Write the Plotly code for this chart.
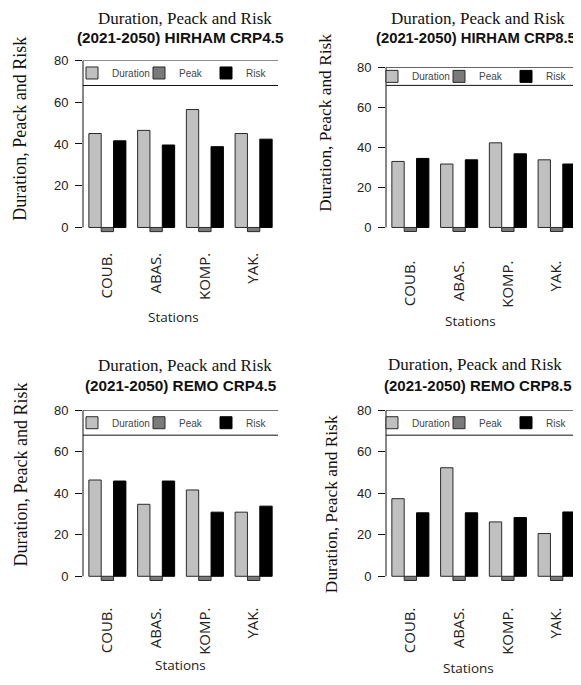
import plotly.graph_objects as go

# ---------------- data ----------------
stations = ["COUB.", "ABAS.", "KOMP.", "YAK."]
series_names = ["Duration", "Peak", "Risk"]

titles = ["(2021-2050) HIRHAM CRP4.5", "(2021-2050) HIRHAM CRP8.5",
          "(2021-2050) REMO CRP4.5", "(2021-2050) REMO CRP8.5"]

duration_hirham45 = [45.0, 46.5, 56.5, 45.0]
peak_hirham45 = [-2, -2, -2, -2]
risk_hirham45 = [41.5, 39.5, 38.7, 42.3]

duration_hirham85 = [33.0, 31.7, 42.3, 33.8]
peak_hirham85 = [-2, -2, -2, -2]
risk_hirham85 = [34.5, 33.8, 36.8, 31.7]

duration_remo45 = [46.4, 34.7, 41.6, 30.9]
peak_remo45 = [-2, -2, -2, -2]
risk_remo45 = [45.9, 45.9, 30.9, 33.8]

duration_remo85 = [37.4, 52.3, 26.2, 20.6]
peak_remo85 = [-2, -2, -2, -2]
risk_remo85 = [30.6, 30.6, 28.3, 31.0]

y_ticks = [0, 20, 40, 60, 80]

panel_data = [
    (duration_hirham45, peak_hirham45, risk_hirham45),
    (duration_hirham85, peak_hirham85, risk_hirham85),
    (duration_remo45, peak_remo45, risk_remo45),
    (duration_remo85, peak_remo85, risk_remo85),
]

# ---------------- layout geometry (window pixels) ----------------
W, H = 581, 685
OFF = 8                      # default page body margin
FW, FH = W - OFF, H - OFF    # figure size


def px(x):
    return (x - OFF) / FW


def py(y):
    return 1 - (y - OFF) / FH


YMIN, YMAX = -3, 80
# (axis x, right x, pixel of y=80, pixel of y=0, legend box bottom value, legend x shift)
geom = [
    (83, 278, 54, 223, 68, -11),
    (386, 581, 61, 223, 71, -14),
    (83, 278, 408, 576, 68, -11),
    (386, 581, 408, 576, 68, -14),
]
# (title x, title y, subtitle x, subtitle y, subtitle size, ytitle x, ytitle y,
#  ytitle size, stations x, stations y, label standoff)
text_pos = [
    (185, 12, 180, 31, 15.3, 20, 123, 18, 173, 314, 15),
    (478, 12, 476, 31, 14.8, 325, 117, 17.4, 471, 318, 23),
    (185, 363, 181, 383, 15.3, 21, 473, 18, 180, 666, 21),
    (475, 362, 478, 383, 15.0, 331, 503, 17.4, 468, 669, 21),
]

fill_colors = ["#c0c0c0", "#7a7a7a", "#000000"]
line_colors = ["#2a2a2a", "#2a2a2a", "#000000"]

fig = go.Figure()
layout = dict(
    width=FW, height=FH, margin=dict(l=0, r=0, t=0, b=0),
    paper_bgcolor="white", plot_bgcolor="white",
    barmode="group", bargap=0.24, bargroupgap=0,
    shapes=[], annotations=[],
)

for i, (vals, g, tp) in enumerate(zip(panel_data, geom, text_pos)):
    ax_x, ax_r, p80, p0, leg_bot, leg_dx = g
    scale = (p0 - p80) / (YMAX - 0)
    pbottom = p0 + (0 - YMIN) * scale
    sfx = "" if i == 0 else str(i + 1)
    xa, ya = "x" + sfx, "y" + sfx
    leg = "legend" + sfx
    for k, name in enumerate(series_names):
        fig.add_trace(go.Bar(
            x=stations, y=vals[k], name=name, xaxis=xa, yaxis=ya,
            marker=dict(color=fill_colors[k], line=dict(color=line_colors[k], width=1)),
            legend=leg, showlegend=True, hoverinfo="x+y+name",
        ))
    layout["xaxis" + sfx] = dict(
        domain=[px(ax_x), min(px(ax_r), 1.0)], anchor=ya,
        range=[-0.5, 3.5], type="category", showgrid=False, zeroline=False,
        showline=False, ticks="", tickangle=-90,
        tickfont=dict(family="Open Sans", size=15, color="#222"),
        ticklabelstandoff=tp[10],
    )
    layout["yaxis" + sfx] = dict(
        domain=[py(pbottom), py(p80)], anchor=xa,
        range=[YMIN, YMAX], showgrid=False, zeroline=False, showline=False,
        tickvals=y_ticks, ticks="outside", ticklen=7, tickcolor="#111", tickwidth=1,
        tickfont=dict(family="Liberation Sans", size=13, color="#222"),
        ticklabelstandoff=4,
    )
    # legend
    layout[leg] = dict(
        orientation="h", x=px(ax_x + leg_dx), xanchor="left",
        y=py(p80 + (80 - leg_bot) * scale / 2), yanchor="middle",
        bgcolor="rgba(0,0,0,0)", borderwidth=0,
        font=dict(family="Liberation Sans", size=10, color="#444"),
        entrywidthmode="pixels", entrywidth=22, traceorder="normal",
        itemclick=False, itemdoubleclick=False,
    )
    # axis line and legend box lines
    layout["shapes"] += [
        dict(type="line", xref=xa + " domain", yref=ya, x0=0, x1=0, y0=0, y1=80,
             line=dict(color="#111", width=1)),
        dict(type="line", xref=xa + " domain", yref=ya, x0=0, x1=1, y0=80, y1=80,
             line=dict(color="#111", width=1)),
        dict(type="line", xref=xa + " domain", yref=ya, x0=0, x1=1, y0=leg_bot, y1=leg_bot,
             line=dict(color="#111", width=1)),
    ]
    tx, ty, sx, sy, ssz, yx, yy, ysz, stx, sty, _ = tp
    layout["annotations"] += [
        dict(text="Duration, Peack and Risk", xref="paper", yref="paper",
             x=px(tx), y=py(ty), xanchor="center", yanchor="middle", showarrow=False,
             font=dict(family="Liberation Serif", size=17, color="#111")),
        dict(text="<b>" + titles[i] + "</b>", xref="paper", yref="paper",
             x=px(sx), y=py(sy), xanchor="center", yanchor="middle", showarrow=False,
             font=dict(family="Liberation Sans", size=ssz, color="#111")),
        dict(text="Duration, Peack and Risk", xref="paper", yref="paper",
             x=px(yx), y=py(yy), xanchor="center", yanchor="middle", showarrow=False,
             textangle=-90,
             font=dict(family="Liberation Serif", size=ysz, color="#111")),
        dict(text="Stations", xref="paper", yref="paper",
             x=px(stx), y=py(sty), xanchor="center", yanchor="middle", showarrow=False,
             font=dict(family="Open Sans", size=13.5, color="#222")),
    ]

fig.update_layout(**layout)
fig.write_html("out.html")
